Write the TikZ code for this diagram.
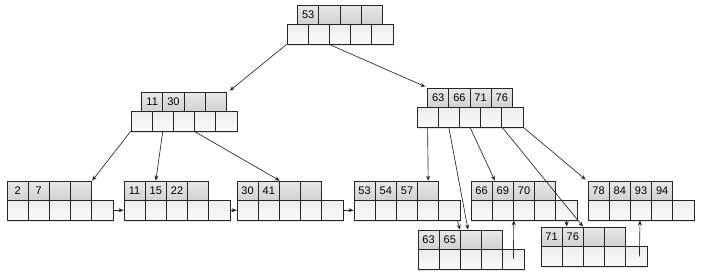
\documentclass[tikz,border=0pt]{standalone}
\usepackage{fontspec}
\setmainfont{Liberation Sans}
\usetikzlibrary{arrows.meta,shadows,calc}
\tikzset{
  cell/.style={draw=black!85, line width=0.7pt, minimum width=21.2pt, minimum height=19.5pt,
    inner sep=0pt, font=\fontsize{11}{13}\selectfont},
  kcell/.style={cell, top color=black!9, bottom color=black!18,
    drop shadow={opacity=0.22, shadow xshift=0.6pt, shadow yshift=-2pt}},
  pcell/.style={cell, top color=black!7, bottom color=white!98!black,
    drop shadow={opacity=0.22, shadow xshift=0.6pt, shadow yshift=-2pt}},
  ptr/.style={draw=black!85, line width=0.65pt, -{Stealth[length=5pt,width=4pt]}}
}
% #1 name, #2 x left of pointer row, #3 y top, #4 offset of key row, #5-#8 keys
\newcommand\bnode[8]{%
  \node[kcell] (#1-k1) at ({#2+#4+0.5*21.2},{#3+9.75}) {#5};
  \node[kcell] (#1-k2) at ({#2+#4+1.5*21.2},{#3+9.75}) {#6};
  \node[kcell] (#1-k3) at ({#2+#4+2.5*21.2},{#3+9.75}) {#7};
  \node[kcell] (#1-k4) at ({#2+#4+3.5*21.2},{#3+9.75}) {#8};
  \foreach \i in {0,...,4}{\node[pcell] (#1-p\i) at ({#2+(\i+0.5)*21.2},{#3+29.25}) {};}
}
\begin{document}
\begin{tikzpicture}[x=1pt,y=-1pt]
\useasboundingbox (0,0) rectangle (703,276);
% internal nodes
\bnode{r}{287}{5}{10.6}{53}{}{}{}
\bnode{A}{131}{92}{10.6}{11}{30}{}{}
\bnode{B}{417}{88}{10.6}{63}{66}{71}{76}
% leaves
\bnode{La}{7}{181}{0}{2}{7}{}{}
\bnode{Lb}{124}{181}{0}{11}{15}{22}{}
\bnode{Lc}{237}{181}{0}{30}{41}{}{}
\bnode{Ld}{354}{181}{0}{53}{54}{57}{}
\bnode{Le}{471}{181}{0}{66}{69}{70}{}
\bnode{Lf}{588}{181}{0}{78}{84}{93}{94}
\bnode{Lg}{418}{230}{0}{63}{65}{}{}
\bnode{Lh}{541}{227}{0}{71}{76}{}{}
% tree pointers
\draw[ptr] (r-p0.south west) -- ($(A-k4.north east)+(3,-1)$);
\draw[ptr] (r-p2.south west) -- ($(B-k1.north west)+(-2,-1)$);
\draw[ptr] (A-p0.south west) -- (La-k4.north east);
\draw[ptr] (A-p1.south) -- (Lb-k2.north);
\draw[ptr] (A-p3.south west) -- (Lc-k2.north east);
\draw[ptr] (B-p0.south) -- (Ld-k4.north);
\draw[ptr] (B-p1.south) -- ($(Lg-k3.north)+(-3,0)$);
\draw[ptr] (B-p2.south) -- ($(Le-k2.north west)+(3,0)$);
\draw[ptr] (B-p3.south east) -- (Lh-k3.north west);
\draw[ptr] (B-p4.south east) -- ($(Lf-k1.north west)+(-2,-1)$);
% leaf links
\draw[ptr] (La-p4.east) -- (Lb-p0.west);
\draw[ptr] (Lb-p4.east) -- (Lc-p0.west);
\draw[ptr] (Lc-p4.east) -- (Ld-p0.west);
\draw[ptr] ($(Ld-p4.south east)+(-3,0)$) -- (Lg-k3.north west);
\draw[ptr] (Le-p4.south) -- ($(Lh-k2.north west)+(5,0)$);
\draw[ptr] (Lg-p4.center) -- (Le-p1.south east);
\draw[ptr] ($(Lh-p4.center)+(3,0)$) -- ($(Lf-p2.south)+(-1,0)$);
\end{tikzpicture}
\end{document}
